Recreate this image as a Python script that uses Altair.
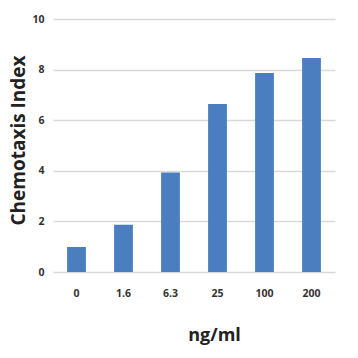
import altair as alt
import pandas as pd

categories = ["0", "1.6", "6.3", "25", "100", "200"]
values = [0.99, 1.87, 3.93, 6.64, 7.87, 8.46]

df = pd.DataFrame({"dose": categories, "ci": values})

chart = alt.Chart(df).mark_bar(color="#4a7ebf").encode(
    x=alt.X("dose:N", sort=categories,
            scale=alt.Scale(paddingInner=0.6, paddingOuter=0.3),
            axis=alt.Axis(title="ng/ml", labelAngle=0, domain=False, ticks=False,
                          labelPadding=16, labelFontSize=10.5, labelFont="Open Sans",
                          labelColor="#333333", labelFontWeight="bold",
                          titleFont="Open Sans", titleFontSize=18, titleFontWeight="bold",
                          titleColor="#222222", titleX=161, titleY=63,
                          titleBaseline="middle", titleAlign="center")),
    y=alt.Y("ci:Q", scale=alt.Scale(domain=[0, 10]),
            axis=alt.Axis(title="Chemotaxis Index", values=[0, 2, 4, 6, 8, 10],
                          domain=False, ticks=False, labelPadding=9,
                          labelFontSize=10.5, labelFont="Open Sans", labelColor="#333333",
                          labelFontWeight="bold",
                          gridColor="#d9d9d9", gridWidth=1.5,
                          titleFont="Open Sans", titleFontSize=19, titleFontWeight="bold",
                          titleColor="#222222", titleX=-35, titleY=121,
                          titleAngle=-90, titleBaseline="middle", titleAlign="center")),
).properties(
    width=282, height=253,
    autosize=alt.AutoSizeParams(type="none"),
    padding={"left": 53, "top": 19, "right": 23, "bottom": 86},
).configure_view(stroke=None)

chart.save("out.html", embed_options={"renderer": "svg", "actions": False})
